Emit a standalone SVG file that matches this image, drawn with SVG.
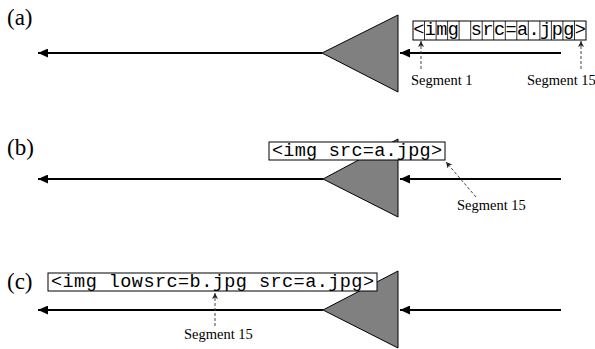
<svg xmlns="http://www.w3.org/2000/svg" width="595" height="349" viewBox="0 0 595 349">
<style>
.lbl{font-family:"Liberation Serif","Times New Roman",serif;font-size:23px;fill:#000}
.seg{font-family:"Liberation Serif","Times New Roman",serif;font-size:14.5px;fill:#000}
.code{font-family:"Liberation Mono","Courier New",monospace;font-size:18.5px;fill:#000}
.main{stroke:#000;stroke-width:2.2;fill:none;marker-end:url(#solid)}
.dash{stroke:#444;stroke-width:1;stroke-dasharray:3,2;fill:none;marker-end:url(#small)}
.tri{fill:#808080;stroke:#000;stroke-width:1}
.box{fill:#fff;stroke:#000;stroke-width:1}
.cell{stroke:#000;stroke-width:0.8}
</style>
<defs>
<marker id="solid" markerUnits="userSpaceOnUse" markerWidth="11" markerHeight="9" refX="10" refY="4.5" orient="auto">
<path d="M0,0 L10,4.5 L0,9 z" fill="#000"/>
</marker>
<marker id="small" markerUnits="userSpaceOnUse" markerWidth="7" markerHeight="7" refX="6" refY="3" orient="auto">
<path d="M0,0 L6,3 L0,6 L1.5,3 z" fill="#222"/>
</marker>
</defs>

<g id="connectors">
<line class="main" x1="322" y1="53" x2="38" y2="53"/>
<line class="main" x1="561" y1="53" x2="400" y2="53"/>
<line class="main" x1="323" y1="179" x2="38" y2="179"/>
<line class="main" x1="561" y1="179" x2="400" y2="179"/>
<line class="main" x1="323" y1="310" x2="38" y2="310"/>
<line class="main" x1="561" y1="310" x2="400" y2="310"/>
<line class="dash" x1="421" y1="69" x2="421" y2="41"/>
<line class="dash" x1="581" y1="69" x2="581" y2="41"/>
<line class="dash" x1="476" y1="197" x2="446" y2="162"/>
<line class="dash" x1="215" y1="326" x2="215" y2="293"/>
</g>

<g id="panel-a">
<text class="lbl" x="7" y="25">(a)</text>
<polygon class="tri" points="322,53 398,15 398,92"/>
<rect class="box" x="413" y="21" width="173" height="19"/>
<g class="cell">
<line x1="424.5" y1="21" x2="424.5" y2="40"/><line x1="436.1" y1="21" x2="436.1" y2="40"/>
<line x1="447.6" y1="21" x2="447.6" y2="40"/><line x1="459.1" y1="21" x2="459.1" y2="40"/>
<line x1="470.7" y1="21" x2="470.7" y2="40"/><line x1="482.2" y1="21" x2="482.2" y2="40"/>
<line x1="493.7" y1="21" x2="493.7" y2="40"/><line x1="505.3" y1="21" x2="505.3" y2="40"/>
<line x1="516.8" y1="21" x2="516.8" y2="40"/><line x1="528.3" y1="21" x2="528.3" y2="40"/>
<line x1="539.9" y1="21" x2="539.9" y2="40"/><line x1="551.4" y1="21" x2="551.4" y2="40"/>
<line x1="562.9" y1="21" x2="562.9" y2="40"/><line x1="574.5" y1="21" x2="574.5" y2="40"/>
</g>
<text class="code" text-anchor="middle" y="35" x="418.8 430.3 441.8 453.4 464.9 476.4 488 499.5 511 522.6 534.1 545.6 557.2 568.7 580.2">&lt;img src=a.jpg&gt;</text>
<text class="seg" x="411" y="85">Segment 1</text>
<text class="seg" x="527" y="85">Segment 15</text>
</g>

<g id="panel-b">
<text class="lbl" x="7" y="155">(b)</text>
<polygon class="tri" points="323,179 398,139 398,217"/>
<rect class="box" x="269" y="142" width="176" height="18"/>
<text class="code" x="272" y="155.5" textLength="170" lengthAdjust="spacing">&lt;img src=a.jpg&gt;</text>
<text class="seg" x="457" y="210">Segment 15</text>
</g>

<g id="panel-c">
<text class="lbl" x="7" y="289">(c)</text>
<polygon class="tri" points="323,310 398,271 398,348"/>
<rect class="box" x="48" y="273" width="329" height="18"/>
<text class="code" x="51" y="286.5" textLength="323" lengthAdjust="spacing">&lt;img lowsrc=b.jpg src=a.jpg&gt;</text>
<text class="seg" x="184" y="339">Segment 15</text>
</g>
</svg>
